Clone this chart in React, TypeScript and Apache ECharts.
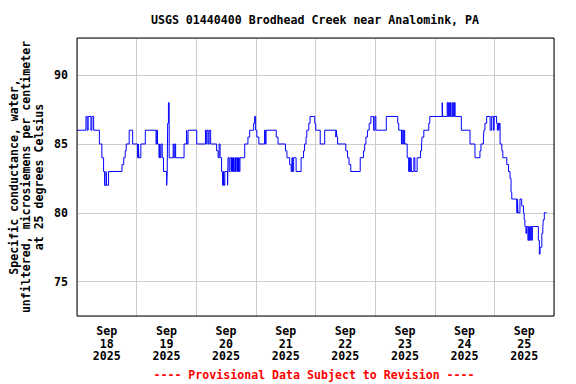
import React, { useEffect, useRef } from "react";
import * as echarts from "echarts";

const TITLE = "USGS 01440400 Brodhead Creek near Analomink, PA";
const Y_NAME_LINES = [
  "Specific conductance, water,",
  "unfiltered, microsiemens per centimeter",
  "at 25 degrees Celsius",
];
const FOOTER = "---- Provisional Data Subject to Revision ----";
const DAY_LABELS = [
  "Sep\n18\n2025",
  "Sep\n19\n2025",
  "Sep\n20\n2025",
  "Sep\n21\n2025",
  "Sep\n22\n2025",
  "Sep\n23\n2025",
  "Sep\n24\n2025",
  "Sep\n25\n2025",
];
const X_MIN_HOURS = 0;
const X_MAX_HOURS = 192;
const Y_MIN = 72.5;
const Y_MAX = 92.7;

// Change points: [hours since Sep 18 00:00, specific conductance]
const sep18: [number, number][] = [
  [0, 86], [3.6, 87], [4.1, 86], [4.5, 87], [5.6, 86], [6.0, 87], [6.7, 86],
  [9.0, 85], [10.0, 84], [10.7, 83], [11.1, 82], [11.7, 83], [11.9, 82], [12.7, 83],
  [18.1, 83.5], [18.8, 84], [19.4, 84.5], [19.8, 85], [21.0, 86], [22.4, 85],
];
const sep19: [number, number][] = [
  [24.4, 84], [24.7, 85], [24.9, 84], [25.7, 85], [27.5, 86], [31.8, 85], [32.1, 86],
  [32.4, 85], [33.0, 84], [33.3, 85], [33.5, 84], [33.8, 85], [34.3, 84], [34.8, 83],
  [36.1, 82], [36.3, 83], [36.5, 86.5], [36.8, 88], [37.1, 84], [38.7, 85], [39.0, 84],
  [39.4, 85], [39.7, 84], [43.1, 85], [44.1, 86], [44.3, 85], [44.7, 86],
];
const sep20: [number, number][] = [
  [48.2, 85], [51.7, 86], [52.0, 85], [52.3, 86], [52.8, 85], [53.2, 86], [53.8, 85],
  [56.2, 84.5], [56.8, 84], [57.2, 85], [57.6, 84], [58.2, 83], [58.6, 82], [59.0, 83],
  [59.2, 82], [59.5, 83], [60.6, 82], [60.8, 84], [61.2, 83], [61.6, 84], [62.2, 83],
  [62.6, 84], [63.0, 83], [63.5, 84], [63.8, 83], [64.1, 84], [64.6, 83], [65.0, 84],
  [65.3, 83], [65.6, 84], [67.5, 85], [68.8, 85.5], [69.5, 86],
];
const sep21: [number, number][] = [
  [71.1, 86.5], [71.5, 87], [71.9, 86], [72.4, 85.5], [73.2, 85], [75.5, 86], [75.8, 85],
  [76.1, 86], [80.2, 85.5], [80.9, 85], [83.9, 84.5], [84.5, 84], [85.6, 83.5], [86.2, 83],
  [86.5, 84], [86.8, 83], [87.2, 84], [88.2, 83], [90.2, 84], [91.2, 84.5], [91.6, 85],
  [92.2, 85.5], [92.5, 86], [93.3, 86.5], [93.8, 87],
];
const sep22: [number, number][] = [
  [95.7, 86.5], [96.1, 86], [97.9, 85], [99.7, 86], [104.2, 85.5], [104.4, 86],
  [104.6, 85.5], [104.9, 85], [108.2, 84.5], [108.9, 84], [109.5, 83.5], [110.2, 83],
  [114.0, 84], [115.3, 84.5], [115.8, 85], [116.3, 85.5], [116.9, 86], [117.6, 86.5],
  [118.3, 87], [119.4, 86],
];
const sep23: [number, number][] = [
  [119.9, 87], [120.3, 86], [124.5, 87], [129.1, 86.5], [129.5, 86], [130.6, 85],
  [130.9, 86], [131.3, 85], [131.6, 86], [131.9, 85], [132.9, 84], [133.5, 83], [133.8, 84],
  [134.1, 83], [134.4, 84], [134.6, 83], [135.6, 84], [136.0, 83], [136.9, 84],
  [138.3, 84.5], [138.7, 85], [138.9, 85.5], [139.6, 86], [141.6, 86.5], [142.0, 87],
];
const sep24: [number, number][] = [
  [147.0, 88], [147.2, 87], [149.0, 88], [149.3, 87], [149.6, 88], [149.9, 87],
  [150.3, 88], [150.6, 87], [151.2, 88], [151.5, 87], [151.9, 88], [152.2, 87],
  [154.7, 86], [158.2, 85], [160.2, 84], [162.2, 84.5], [162.6, 85], [163.6, 85.5],
  [163.8, 86], [164.2, 86.5], [164.9, 87], [166.3, 86], [166.9, 87], [167.6, 86], [167.9, 87],
];
const sep25: [number, number][] = [
  [168.9, 86.5], [169.2, 86], [169.5, 86.5], [169.8, 86], [170.0, 86.5], [170.3, 85],
  [171.0, 84.5], [171.4, 84], [173.0, 83.5], [173.7, 83], [174.3, 82.5], [174.7, 81.5],
  [175.0, 81], [177.0, 80], [177.3, 81], [177.5, 80], [178.3, 81], [179.0, 80.5],
  [179.7, 80], [180.0, 79.5], [180.3, 79], [180.7, 78.5], [181.0, 79], [181.5, 78],
  [181.8, 79], [182.1, 78], [182.5, 79], [183.0, 78], [183.3, 79], [185.7, 78], [186.1, 77],
  [186.4, 77.5], [187.1, 78.5], [187.5, 79], [187.7, 79.5], [188.1, 80], [189.0, 80],
];

const FONT = "'DejaVu Sans Mono', monospace";
const FS = 11.6;

export default function App() {
  const ref = useRef<HTMLDivElement | null>(null);

  useEffect(() => {
    if (!ref.current) return;
    const chart = echarts.init(ref.current, null, { renderer: "svg" });
    const data = [...sep18, ...sep19, ...sep20, ...sep21, ...sep22, ...sep23, ...sep24, ...sep25];
    chart.setOption({
      animation: false,
      backgroundColor: "#ffffff",
      grid: {
        left: 77,
        right: 22,
        top: 38,
        bottom: 68,
        show: true,
        borderColor: "#000000",
        borderWidth: 1,
        backgroundColor: "transparent",
        z: 10,
      },
      xAxis: [
        {
          type: "value",
          min: X_MIN_HOURS,
          max: X_MAX_HOURS,
          show: false,
        },
        {
          type: "category",
          position: "bottom",
          data: DAY_LABELS,
          boundaryGap: true,
          axisLine: { show: false },
          axisTick: { show: false },
          axisLabel: {
            interval: 0,
            margin: 9,
            color: "#000000",
            fontFamily: FONT,
            fontWeight: "bold",
            fontSize: FS,
            lineHeight: 12.5,
          },
          splitLine: { show: true, interval: 0, lineStyle: { color: "#cccccc", width: 1 } },
        },
      ],
      yAxis: {
        type: "value",
        min: Y_MIN,
        max: Y_MAX,
        splitNumber: 4,
        axisLine: { show: false },
        axisTick: { show: false },
        axisLabel: {
          margin: 9,
          color: "#000000",
          fontFamily: FONT,
          fontWeight: "bold",
          fontSize: FS,
          showMinLabel: false,
          showMaxLabel: false,
          formatter: (v: number) => (Math.abs(v % 5) < 1e-6 ? String(v) : ""),
        },
        splitLine: { show: true, lineStyle: { color: "#cccccc", width: 1 } },
      },
      graphic: [
        {
          type: "text",
          x: 315,
          y: 20,
          style: {
            text: TITLE,
            fill: "#000000",
            font: `bold ${FS}px ${FONT}`,
            textAlign: "center",
            textVerticalAlign: "middle",
          },
        },
        {
          type: "text",
          x: 26,
          y: 177,
          rotation: Math.PI / 2,
          style: {
            text: Y_NAME_LINES.join("\n"),
            fill: "#000000",
            font: `bold ${FS}px ${FONT}`,
            lineHeight: 12.5,
            textAlign: "center",
            textVerticalAlign: "middle",
          },
        },
        {
          type: "text",
          x: 314,
          y: 375,
          style: {
            text: FOOTER,
            fill: "#ff0000",
            font: `bold ${FS}px ${FONT}`,
            textAlign: "center",
            textVerticalAlign: "middle",
          },
        },
      ],
      series: [
        {
          type: "line",
          xAxisIndex: 0,
          yAxisIndex: 0,
          data,
          step: "end",
          showSymbol: false,
          symbol: "none",
          lineStyle: { color: "#0000ff", width: 1 },
          z: 5,
        },
      ],
    });
    return () => chart.dispose();
  }, []);

  return (
    <div
      ref={ref}
      style={{ position: "fixed", left: 0, top: 0, width: 576, height: 384, background: "#fff" }}
    />
  );
}
